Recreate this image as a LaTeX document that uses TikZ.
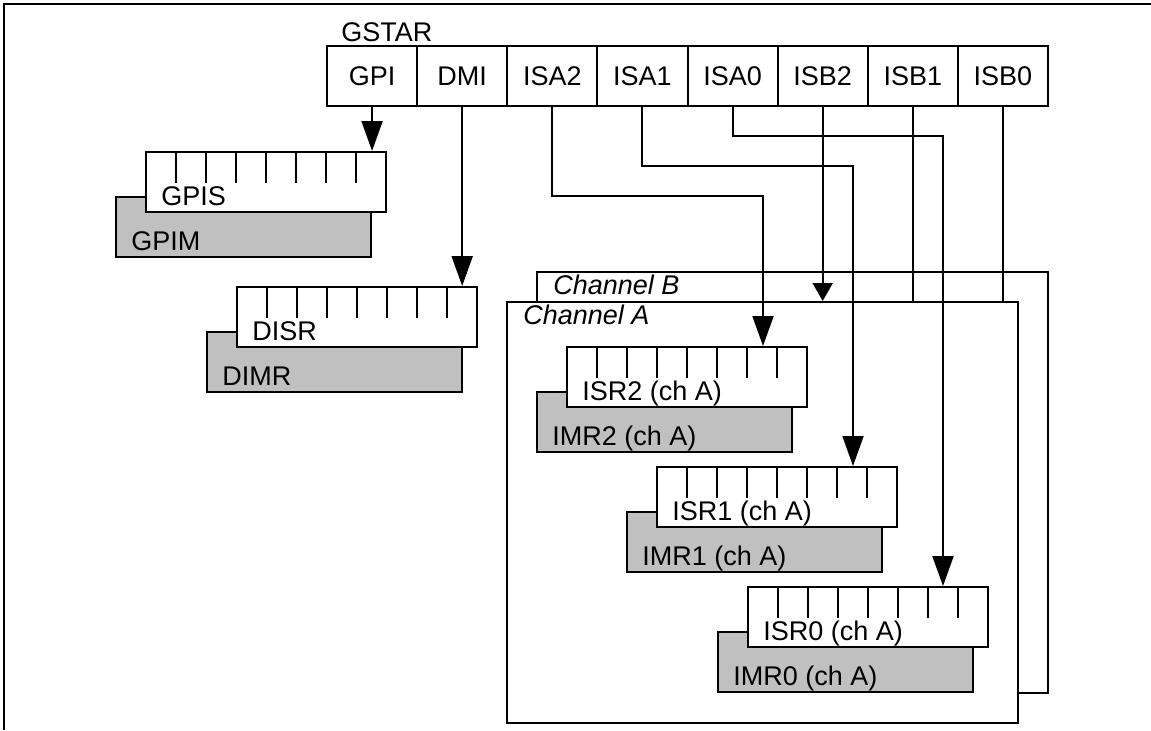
\documentclass[tikz,border=0pt]{standalone}
\usepackage{fontspec}
\setmainfont{Liberation Sans}
\usetikzlibrary{arrows.meta}
\definecolor{regGray}{RGB}{192,192,192}
\newcommand{\regpair}[5]{%
  \node[graybox] (#1m) at ({#2+97.5},{#3+75}) {};
  \node[whitebox] (#1s) at ({#2+120},{#3+30}) {};
  \foreach \k in {1,...,7} \draw[boxline] ({#2+30*\k},#3) -- ({#2+30*\k},{#3+30});
  \node[lbl] (#1sl) at ({#2+15},{#3+53}) {#4};
  \node[lbl] (#1ml) at ({#2-15},{#3+98}) {#5};
}
\begin{document}
\begin{tikzpicture}[x=0.5pt,y=-0.5pt,
  boxline/.style={line width=1pt, line cap=rect},
  cell/.style={draw, line width=1pt, minimum width=45.0625pt, minimum height=30pt, inner sep=0pt},
  graybox/.style={draw, line width=1pt, fill=regGray, minimum width=127.5pt, minimum height=30pt, inner sep=0pt},
  whitebox/.style={draw, line width=1pt, fill=white, minimum width=120pt, minimum height=30pt, inner sep=0pt},
  chbox/.style={draw, line width=1pt, fill=white, minimum width=255.5pt, minimum height=210.5pt, inner sep=0pt},
  lbl/.style={anchor=base west, inner sep=0pt},
  arr/.style={line width=1pt, -{Triangle[length=15pt,width=10.5pt]}},
  arrs/.style={line width=1pt, -{Triangle[length=9pt,width=10pt]}},
  conn/.style={line width=1pt},
  every node/.append style={font=\fontsize{13.5pt}{16pt}\selectfont}
]
\useasboundingbox (0,0) rectangle (1151,730);
% outer frame
\draw[line width=1.2pt] (4,730) -- (4,4) -- (1151,4);
% GSTAR register
\node[lbl] (gstarlbl) at (341,41) {GSTAR};
\foreach \n/\m [count=\i from 0] in {GPI/gpi,DMI/dmi,ISA2/isaii,ISA1/isai,ISA0/isao,ISB2/isbii,ISB1/isbi,ISB0/isbo}
  \node[cell] (\m) at ({372.06+90.125*\i},76) {\n};
% global registers
\regpair{gpi}{146}{152}{GPIS}{GPIM}
\regpair{di}{237}{287}{DISR}{DIMR}
% channel boxes
\node[chbox] (chB) at (792.5,482.5) {};
\node[lbl, font=\fontsize{13.5pt}{16pt}\selectfont\itshape] (chBl) at (553,294) {Channel B};
\node[chbox] (chA) at (762.5,512.5) {};
\node[lbl, font=\fontsize{13.5pt}{16pt}\selectfont\itshape] (chAl) at (523,324) {Channel A};
% channel A registers
\regpair{isrii}{567}{347}{ISR2 (ch A)}{IMR2 (ch A)}
\regpair{isri}{657}{467}{ISR1 (ch A)}{IMR1 (ch A)}
\regpair{isro}{748}{587}{ISR0 (ch A)}{IMR0 (ch A)}
% channel B connectors
\draw[arrs] (isbii.south) -- (isbii.south |- chA.north);
\draw[conn] (isbi.south) -- (isbi.south |- chA.north);
\draw[conn] (isbo.south) -- (isbo.south |- chA.north);
% global connectors
\draw[arr] (gpi.south) -- (gpi.south |- gpis.north);
\draw[arr] (dmi.south) -- (dmi.south |- dis.north);
% channel A connectors
\coordinate (tii) at (763,196);
\coordinate (ti) at (853,166);
\coordinate (to) at (943,136);
\draw[arr] (isaii.south) |- (tii) -- (tii |- isriis.north);
\draw[arr] (isai.south) |- (ti) -- (ti |- isris.north);
\draw[arr] (isao.south) |- (to) -- (to |- isros.north);
\end{tikzpicture}
\end{document}
